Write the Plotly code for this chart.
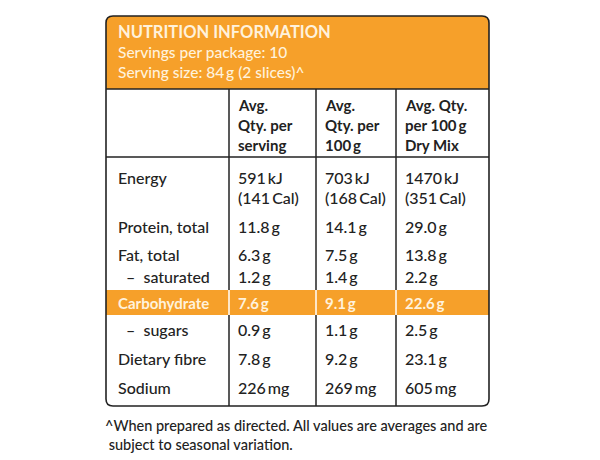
import plotly.graph_objects as go

# ---------------- data ----------------
title = "NUTRITION INFORMATION"
subtitle_lines = ["Servings per package: 10", "Serving size: 84\u2009g (2 slices)^"]
col_headers = [
    ["Avg.", "Qty. per", "serving"],
    ["Avg.", "Qty. per", "100\u2009g"],
    ["Avg. Qty.", "per 100\u2009g", "Dry Mix"],
]
row_labels = ["Energy", "Protein, total", "Fat, total", "  \u2013  saturated",
              "Carbohydrate", "  \u2013  sugars", "Dietary fibre", "Sodium"]
per_serving = [["591\u2009kJ", "(141\u2009Cal)"], ["11.8\u2009g"], ["6.3\u2009g"], ["1.2\u2009g"],
               ["7.6\u2009g"], ["0.9\u2009g"], ["7.8\u2009g"], ["226\u2009mg"]]
per_100g = [["703\u2009kJ", "(168\u2009Cal)"], ["14.1\u2009g"], ["7.5\u2009g"], ["1.4\u2009g"],
            ["9.1\u2009g"], ["1.1\u2009g"], ["9.2\u2009g"], ["269\u2009mg"]]
per_100g_dry = [["1470\u2009kJ", "(351\u2009Cal)"], ["29.0\u2009g"], ["13.8\u2009g"], ["2.2\u2009g"],
                ["22.6\u2009g"], ["2.5\u2009g"], ["23.1\u2009g"], ["605\u2009mg"]]
highlight_row = "Carbohydrate"
footnote_lines = ["^When prepared as directed. All values are averages and are",
                  " subject to seasonal variation."]

# ---------------- layout constants ----------------
W, H = 600, 460
OFF = 8  # page body margin
FONT = "Lato"
ORANGE = "#F6A02A"
DARK = "#222222"
CREAM = "#FFF2DC"
FS = 16
LINE_H = 20

box_l, box_r, box_t, box_b = 106, 489, 16, 406
header_b = 89
colhead_b = 157
col_x = [229, 316, 396]
text_x = [116, 236, 323, 403]
row_y = [177, 226, 254, 276, 303, 329, 358, 387]
band_t, band_b = 290, 315
R = 7

fig = go.Figure()
fig.add_trace(go.Scatter(x=[OFF, W + OFF], y=[OFF, H + OFF], mode="markers",
                         marker=dict(opacity=0), hoverinfo="skip", showlegend=False))

shapes = []
shapes.append(dict(type="path", layer="below",
                   path=(f"M {box_l},{header_b} L {box_l},{box_t+R} Q {box_l},{box_t} {box_l+R},{box_t} "
                         f"L {box_r-R},{box_t} Q {box_r},{box_t} {box_r},{box_t+R} L {box_r},{header_b} Z"),
                   fillcolor=ORANGE, line=dict(width=0)))
ci = row_labels.index(highlight_row)
shapes.append(dict(type="rect", layer="below", x0=box_l, x1=box_r, y0=band_t, y1=band_b,
                   fillcolor=ORANGE, line=dict(width=0)))
shapes.append(dict(type="line", x0=box_l, x1=box_r, y0=header_b, y1=header_b,
                   line=dict(color=DARK, width=1.5)))
shapes.append(dict(type="line", x0=box_l, x1=box_r, y0=colhead_b, y1=colhead_b,
                   line=dict(color=DARK, width=1.5)))
for cx in col_x:
    shapes.append(dict(type="line", x0=cx, x1=cx, y0=header_b, y1=band_t,
                       line=dict(color=DARK, width=1.5)))
    shapes.append(dict(type="line", x0=cx, x1=cx, y0=band_b, y1=box_b,
                       line=dict(color=DARK, width=1.5)))
    shapes.append(dict(type="line", x0=cx, x1=cx, y0=band_t, y1=band_b,
                       line=dict(color="#FFFFFF", width=1.5)))
shapes.append(dict(type="path",
                   path=(f"M {box_l+R},{box_t} L {box_r-R},{box_t} Q {box_r},{box_t} {box_r},{box_t+R} "
                         f"L {box_r},{box_b-R} Q {box_r},{box_b} {box_r-R},{box_b} "
                         f"L {box_l+R},{box_b} Q {box_l},{box_b} {box_l},{box_b-R} "
                         f"L {box_l},{box_t+R} Q {box_l},{box_t} {box_l+R},{box_t} Z"),
                   line=dict(color=DARK, width=1.6)))

ann = []


def txt(x, y, s, color=DARK, bold=False, size=FS):
    ann.append(dict(x=x, y=y, xref="x", yref="y", text=s,
                    showarrow=False, xanchor="left", yanchor="middle",
                    font=dict(family=FONT, size=size, color=color, weight=(700 if bold else 500))))


txt(text_x[0], 32, title, color=CREAM, bold=True, size=16.5)
for i, s in enumerate(subtitle_lines):
    txt(text_x[0], 52 + i * LINE_H, s, color=CREAM, size=15.5)

for j, lines in enumerate(col_headers):
    for k, s in enumerate(lines):
        txt(text_x[j + 1], 105 + k * LINE_H, s, bold=True, size=15)

for i, lab in enumerate(row_labels):
    hl = (i == ci)
    col = CREAM if hl else DARK
    txt(text_x[0], row_y[i], lab.replace(" ", "\u00a0"), color=col, bold=hl, size=(15 if hl else FS))
    for j, vals in enumerate([per_serving, per_100g, per_100g_dry]):
        for k, s in enumerate(vals[i]):
            txt(text_x[j + 1], row_y[i] + k * LINE_H, s, color=col, bold=hl, size=(15 if hl else FS))

for i, s in enumerate(footnote_lines):
    txt(103, 425 + i * 19, s.replace(" ", "\u00a0") if s.startswith(" ") else s, size=14.5)

fig.update_layout(
    width=W, height=H, margin=dict(l=0, r=0, t=0, b=0),
    paper_bgcolor="white", plot_bgcolor="white",
    xaxis=dict(range=[OFF, W + OFF], visible=False, fixedrange=True),
    yaxis=dict(range=[H + OFF, OFF], visible=False, fixedrange=True),
    shapes=shapes, annotations=ann, showlegend=False,
)
fig.write_html("out.html")
